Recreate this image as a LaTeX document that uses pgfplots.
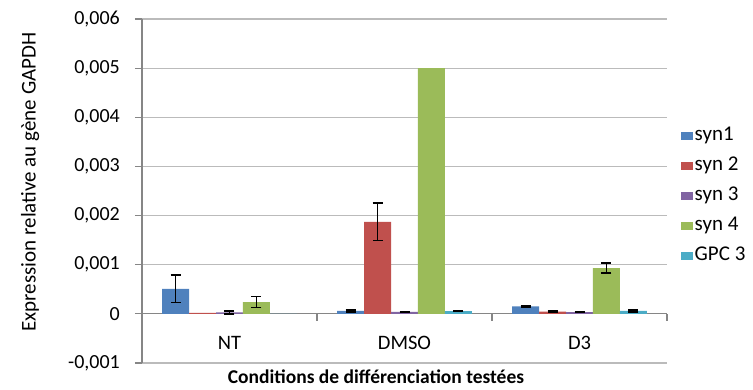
\documentclass[border=0pt]{standalone}
\usepackage{fontspec}
\setmainfont{Carlito}
\usepackage{pgfplots}
\usepackage{pgfplotstable}
\pgfplotsset{compat=1.18}

\definecolor{synA}{HTML}{4F81BD}
\definecolor{synB}{HTML}{C0504D}
\definecolor{synC}{HTML}{8064A2}
\definecolor{synD}{HTML}{9BBB59}
\definecolor{gpc}{HTML}{4BACC6}
\definecolor{axisgray}{HTML}{868686}
\definecolor{gridgray}{HTML}{BBBBBB}

% x: 0 = NT, 1 = DMSO, 2 = D3
\pgfplotstableread{
x y
0 0.00051
1 0.00006
2 0.00015
}\synone
\pgfplotstableread{
x y
0 0.00002
1 0.00187
2 0.000045
}\syntwo
\pgfplotstableread{
x y
0 0.00003
1 0.00004
2 0.000035
}\synthree
\pgfplotstableread{
x y
0 0.00024
1 0.005
2 0.00093
}\synfour
\pgfplotstableread{
x y
0 0
1 0.000055
2 0.00006
}\gpcthree

\begin{document}
\begin{tikzpicture}
\begin{axis}[
  name=ax,
  scale only axis, width=525pt, height=344pt,
  ybar, bar width=0.1538,
  xmin=-0.5, xmax=2.5,
  ymin=-0.001, ymax=0.006,
  axis x line*=middle, axis y line*=left,
  hide obscured x ticks=false, hide obscured y ticks=false,
  axis line style={draw=axisgray, line width=1.2pt},
  ymajorgrids, grid style={draw=gridgray, line width=1.2pt},
  ytick={-0.001,0,0.001,0.002,0.003,0.004,0.005,0.006},
  scaled y ticks=false,
  yticklabel style={font=\fontsize{20}{24}\selectfont, inner xsep=15pt},
  y tick label style={/pgf/number format/.cd, fixed, precision=3, use comma, assume math mode=true},
  ytick align=outside, major tick length=7pt,
  ytick style={draw=axisgray, line width=1.2pt},
  xtick={0,1,2}, xticklabels={NT,DMSO,D3},
  major x tick style={draw=none},
  xticklabel style={font=\fontsize{20.5}{24}\selectfont, anchor=center, yshift=-22pt},
  extra x ticks={-0.5,0.5,1.5,2.5}, extra x tick labels={},
  extra x tick style={xtick align=outside, major tick length=7pt,
    major x tick style={draw=axisgray, line width=1.2pt}},
  ylabel={Expression relative au gène GAPDH},
  ylabel style={font=\fontsize{21}{25}\selectfont, at={(axis description cs:-0.213,0.526)}, anchor=center},
  xlabel={Conditions de différenciation testées},
  xlabel style={font=\fontsize{19.5}{24}\selectfont\bfseries, at={(axis description cs:0.4457,-0.061)}, anchor=base},
  legend style={at={(1.0267,0.4855)}, anchor=west, draw=none, fill=none, inner sep=0pt,
    font=\fontsize{21}{24}\selectfont, row sep=9pt,
    nodes={text height=14pt, text depth=4pt, inner sep=1.5pt}},
  legend cell align=left,
  legend image code/.code={\fill[#1] (0pt,-4pt) rectangle (12pt,4pt);},
  errbar/.style={forget plot, draw=none, fill=none,
    error bars/.cd, y dir=both, y explicit,
    error bar style={black, line width=1.6pt},
    error mark options={black, rotate=90, mark size=5pt, line width=1.6pt}},
]
% bars
\addplot[fill=synA, draw=none, bar shift=-0.3076] table[x=x, y=y] {\synone};
\addlegendentry{syn1}
\addplot[fill=synB, draw=none, bar shift=-0.1538] table[x=x, y=y] {\syntwo};
\addlegendentry{syn 2}
\addplot[fill=synC, draw=none, bar shift=0] table[x=x, y=y] {\synthree};
\addlegendentry{syn 3}
\addplot[fill=synD, draw=none, bar shift=0.1538] table[x=x, y=y] {\synfour};
\addlegendentry{syn 4}
\addplot[fill=gpc, draw=none, bar shift=0.3076] table[x=x, y=y] {\gpcthree};
\addlegendentry{GPC 3}
% error bars, only where the reference shows them
\addplot[bar shift=-0.3076, errbar] table[x=x, y=y, y error=e] {
x y e
0 0.00051 0.00028
1 0.00006 0.00002
2 0.00015 0.000008
};
\addplot[bar shift=-0.1538, errbar] table[x=x, y=y, y error=e] {
x y e
1 0.00187 0.00038
2 0.000045 0.000008
};
\addplot[bar shift=0, errbar] table[x=x, y=y, y error=e] {
x y e
0 0.00003 0.00003
1 0.00004 0.00001
2 0.000035 0.00001
};
\addplot[bar shift=0.1538, errbar] table[x=x, y=y, y error=e] {
x y e
0 0.00024 0.00011
2 0.00093 0.0001
};
\addplot[bar shift=0.3076, errbar] table[x=x, y=y, y error=e] {
x y e
1 0.000055 0.00001
2 0.00006 0.00002
};
\end{axis}
\pgfresetboundingbox
\path ([shift={(-142pt,-27pt)}]ax.south west) rectangle ([shift={(86pt,19pt)}]ax.north east);
\end{tikzpicture}
\end{document}
